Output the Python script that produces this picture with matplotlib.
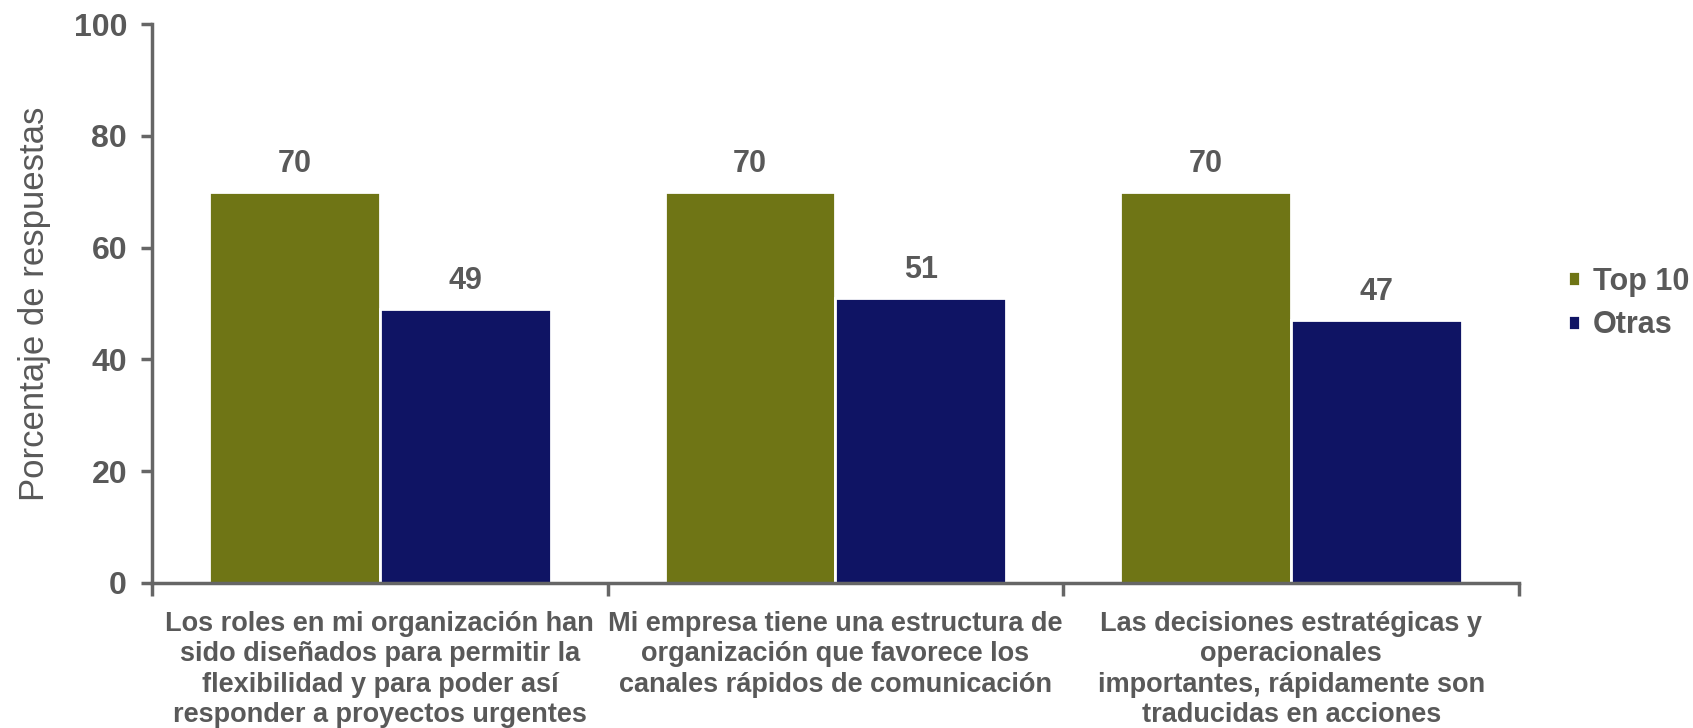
import matplotlib.pyplot as plt
import numpy as np

# datos
categorias = ['Los roles en mi organización han\nsido diseñados para permitir la\nflexibilidad y para poder así\nresponder a proyectos urgentes',
              'Mi empresa tiene una estructura de\norganización que favorece los\ncanales rápidos de comunicación',
              'Las decisiones estratégicas y\noperacionales\nimportantes, rápidamente son\ntraducidas en acciones']
top10 = [70, 70, 70]
otras = [49, 51, 47]
series = ['Top 10', 'Otras']

verde = '#6F7515'
azul = '#0F1464'
gris = '#595959'
eje = '#666666'

plt.rcParams['font.family'] = ['Liberation Sans', 'DejaVu Sans']

fig = plt.figure(figsize=(16.93, 7.28), dpi=100)
ax = fig.add_axes([0.0898, 0.1992, 0.8074, 0.7678])

x = np.arange(len(categorias))
w = 0.375
b1 = ax.bar(x - w/2, top10, w, color=verde, edgecolor='white', linewidth=2, label=series[0])
b2 = ax.bar(x + w/2, otras, w, color=azul, edgecolor='white', linewidth=2, label=series[1])

for barras in (b1, b2):
    for r in barras:
        ax.text(r.get_x() + r.get_width()/2, r.get_height() + 3.6, f'{r.get_height():.0f}',
                ha='center', va='baseline', fontsize=22, fontweight='bold', color=gris)

ax.set_xlim(-0.5, 2.5)
ax.set_ylim(0, 100)
ax.set_yticks([0, 20, 40, 60, 80, 100])
ax.tick_params(axis='y', labelsize=23, labelcolor=gris, color=eje, width=2.5, length=8, pad=10)
for t in ax.get_yticklabels():
    t.set_fontweight('bold')

ax.set_xticks(x)
ax.set_xticklabels(categorias, fontsize=19.5, fontweight='bold', color=gris, linespacing=1.22)
ax.tick_params(axis='x', length=0, pad=20)
ax.set_xticks([-0.5, 0.5, 1.5, 2.5], minor=True)
ax.tick_params(axis='x', which='minor', length=9, width=2.5, color=eje)

for s in ['top', 'right']:
    ax.spines[s].set_visible(False)
for s in ['left', 'bottom']:
    ax.spines[s].set_color(eje)
    ax.spines[s].set_linewidth(2.5)

ax.set_ylabel('Porcentaje de respuestas', fontsize=25, color=gris, labelpad=16)

leg = ax.legend(loc='center left', bbox_to_anchor=(1.036, 0.5), frameon=False,
                borderaxespad=0, borderpad=0,
                fontsize=22, handlelength=0.4, handleheight=0.4, handletextpad=0.4,
                labelspacing=0.45)
for t in leg.get_texts():
    t.set_color(gris)
    t.set_fontweight('bold')

plt.savefig('out.png', dpi=100)
